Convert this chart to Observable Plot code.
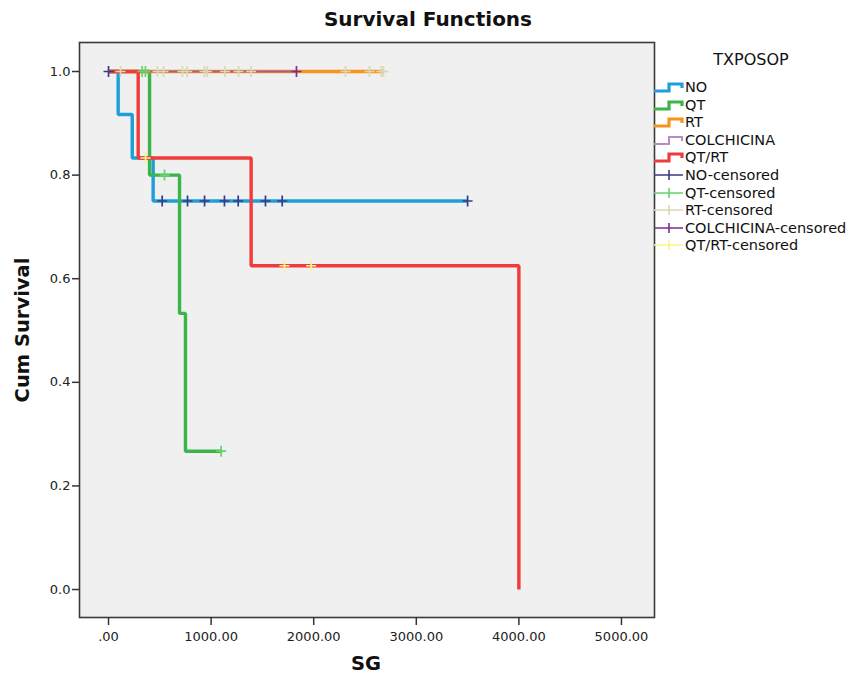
<!DOCTYPE html>
<html><head><meta charset="utf-8">
<script src="https://cdn.jsdelivr.net/npm/d3@7"></script>
<script src="https://cdn.jsdelivr.net/npm/@observablehq/plot@0.6"></script>
<style>
body{margin:0;background:#fff;font-family:"DejaVu Sans",sans-serif;color:#111;}
#wrap{position:relative;width:852px;height:681px;overflow:hidden;}
#wrap svg.plot{position:absolute;left:0;top:0;}
.title{position:absolute;left:0;width:856px;top:7px;text-align:center;font-weight:bold;font-size:20px;}
.ylab{position:absolute;left:22px;top:330px;transform:translate(-50%,-50%) rotate(-90deg);font-weight:bold;font-size:19.5px;white-space:nowrap;}
.xlab{position:absolute;left:366px;top:663px;transform:translate(-50%,-50%);font-weight:bold;font-size:19.5px;}
.legend{position:absolute;left:651px;top:50px;width:200px;}
.legend .lt{position:absolute;left:0;width:200px;text-align:center;top:0;font-size:16px;}
.legend .it{position:absolute;left:2px;height:18px;display:flex;align-items:center;font-size:14.5px;white-space:nowrap;}
.legend .it svg{margin-right:1px;}
</style></head><body><div id="wrap"></div>
<script>
// groups and colours
const groups = ["NO", "QT", "RT", "COLCHICINA", "QT/RT"];
const lineColors = ["#1e9fd9", "#3bb54a", "#f7941d", "#a5608f", "#ef3b3b"];
const legendLineColors = ["#1e9fd9", "#3bb54a", "#f7941d", "#b98ac8", "#ef3b3b"];
const censorColors = ["#3a3b88", "#66d46a", "#dcd7b4", "#7e2d8e", "#fbf38a"];

// Kaplan-Meier step points (time, cumulative survival)
const noTime = [0, 94, 231, 435, 3500];
const noSurv = [1, 0.917, 0.833, 0.75, 0.75];
const qtTime = [0, 400, 692, 750, 1098];
const qtSurv = [1, 0.8, 0.533, 0.267, 0.267];
const rtTime = [0, 2680];
const rtSurv = [1, 1];
const colTime = [0, 1832];
const colSurv = [1, 1];
const qtrtTime = [0, 289, 1390, 4000];
const qtrtSurv = [1, 0.833, 0.625, 0];

// censored observations
const noCensTime = [0, 523, 770, 936, 1130, 1264, 1530, 1693, 3500];
const noCensSurv = [1, 0.75, 0.75, 0.75, 0.75, 0.75, 0.75, 0.75, 0.75];
const qtCensTime = [328, 360, 546, 1098];
const qtCensSurv = [1, 1, 0.8, 0.267];
const rtCensTime = [117, 477, 536, 720, 767, 935, 962, 1135, 1267, 1390, 2310, 2544, 2660, 2680];
const rtCensSurv = [1, 1, 1, 1, 1, 1, 1, 1, 1, 1, 1, 1, 1, 1];
const colCensTime = [1832];
const colCensSurv = [1];
const qtrtCensTime = [361, 1715, 1975];
const qtrtCensSurv = [0.833, 0.625, 0.625];

const xTicks = [0, 1000, 2000, 3000, 4000, 5000];
const yTicks = [0, 0.2, 0.4, 0.6, 0.8, 1.0];

const lineTimes = [noTime, qtTime, rtTime, colTime, qtrtTime];
const lineSurvs = [noSurv, qtSurv, rtSurv, colSurv, qtrtSurv];
const censTimes = [noCensTime, qtCensTime, rtCensTime, colCensTime, qtrtCensTime];
const censSurvs = [noCensSurv, qtCensSurv, rtCensSurv, colCensSurv, qtrtCensSurv];
const lineWidths = [3.4, 3.4, 3.4, 2, 3.4];

const toRows = (ts, ss) => ts.map((t, i) => ({t, s: ss[i]}));

const plus = {draw(ctx, size) {
  const r = Math.sqrt(size / Math.PI);
  ctx.moveTo(-r, 0); ctx.lineTo(r, 0);
  ctx.moveTo(0, -r * 1.1); ctx.lineTo(0, r * 1.1);
}};

const marks = [Plot.frame({fill: "#f0f0f0", stroke: "none"})];
groups.forEach((g, i) => {
  marks.push(Plot.line(toRows(lineTimes[i], lineSurvs[i]), {
    x: "t", y: "s", curve: "step-after", stroke: lineColors[i], strokeWidth: lineWidths[i], strokeLinejoin: "miter", strokeLinecap: "butt"
  }));
});
groups.forEach((g, i) => {
  marks.push(Plot.dot(toRows(censTimes[i], censSurvs[i]), {
    x: "t", y: "s", symbol: plus, r: 5, stroke: censorColors[i], fill: "none", strokeWidth: 1.7
  }));
});
marks.push(Plot.frame({stroke: "#3a3a3a", strokeWidth: 1.6}));
marks.push(Plot.axisX({ticks: xTicks, tickFormat: d => d === 0 ? ".00" : d.toFixed(2), tickSize: 8, tickPadding: 6, label: null, fontSize: 13, stroke: "#333", strokeWidth: 1.5, fill: "#222"}));
marks.push(Plot.axisY({ticks: yTicks, tickFormat: d3.format(".1f"), tickSize: 7, tickPadding: 2, label: null, fontSize: 13, stroke: "#333", strokeWidth: 1.5, fill: "#222"}));

const chart = Plot.plot({
  width: 852, height: 681,
  marginLeft: 79, marginRight: 198, marginTop: 42, marginBottom: 64,
  x: {domain: [-283, 5322]},
  y: {domain: [-0.054, 1.056]},
  style: {fontFamily: "DejaVu Sans, sans-serif", fontSize: "13px", background: "#fff"},
  marks
});
const wrap = document.getElementById("wrap");
wrap.appendChild(chart);

function addDiv(cls, text) {
  const d = document.createElement("div"); d.className = cls; d.textContent = text; wrap.appendChild(d); return d;
}
addDiv("title", "Survival Functions");
addDiv("ylab", "Cum Survival");
addDiv("xlab", "SG");

const legend = document.createElement("div"); legend.className = "legend"; wrap.appendChild(legend);
const lt = document.createElement("div"); lt.className = "lt"; lt.textContent = "TXPOSOP"; legend.appendChild(lt);
const legendLabels = groups.concat(groups.map(g => g + "-censored"));
legendLabels.forEach((lab, k) => {
  const it = document.createElement("div"); it.className = "it";
  it.style.top = (28 + k * 17.6) + "px";
  let icon;
  if (k < 5) {
    const w = k === 3 ? 2 : 3.2;
    icon = `<svg width="31" height="18"><path d="M1,13H16V6H29V10" fill="none" stroke="${legendLineColors[k]}" stroke-width="${w}"/></svg>`;
  } else {
    icon = `<svg width="31" height="18"><path d="M1,9H30M16,4V14" fill="none" stroke="${censorColors[k - 5]}" stroke-width="1.6"/></svg>`;
  }
  it.innerHTML = icon + `<span>${lab}</span>`;
  legend.appendChild(it);
});
</script></body></html>
